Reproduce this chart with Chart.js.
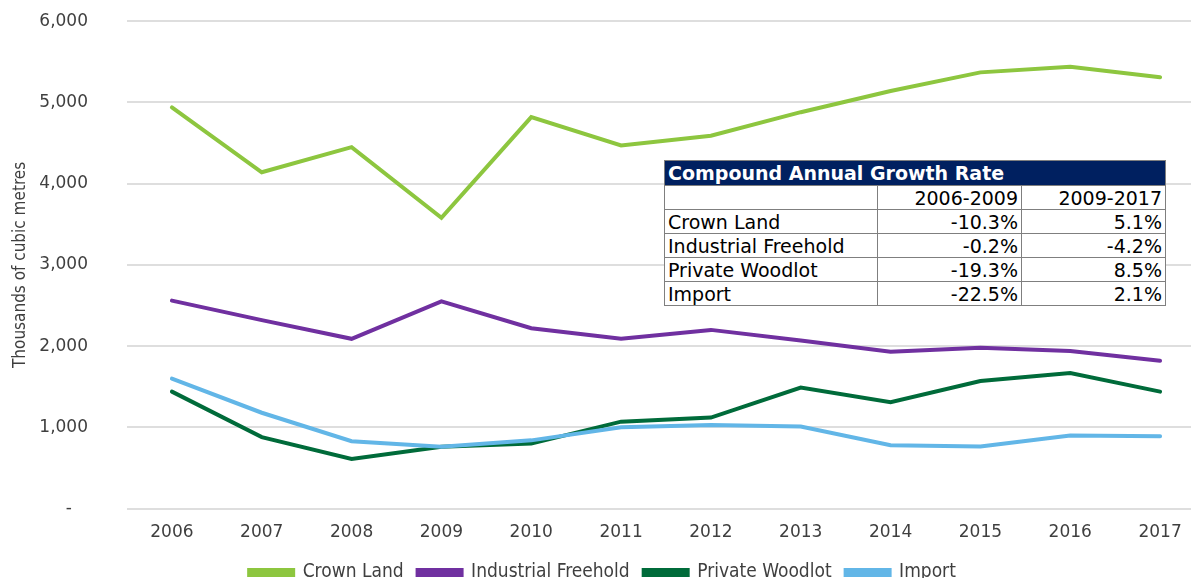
<!DOCTYPE html>
<html>
<head>
<meta charset="utf-8">
<script src="https://cdn.jsdelivr.net/npm/chart.js@4/dist/chart.umd.min.js"></script>
<style>
    html, body { margin: 0; padding: 0; background: #fff; }
    body { width: 1191px; height: 578px; overflow: hidden; position: relative; }
    #wrap { position: absolute; left: 0; top: -28px; width: 1206px; height: 620px; }
    #cagr {
        position: absolute; left: 664px; top: 160px; width: 502px;
        border-collapse: collapse; font-family: "DejaVu Sans", Verdana, sans-serif;
        font-size: 19px; color: #000; background: #fff;
    }
    #cagr td { border: 1px solid #7f7f7f; height: 23px; padding: 0 3px; line-height: 22px; white-space: nowrap; }
    #cagr td.num { text-align: right; }
    #cagr th {
        background: #002060; color: #fff; font-weight: bold; text-align: left;
        padding: 0 3px; height: 24px; line-height: 24px; border: 1px solid #7f7f7f;
    }
</style>
</head>
<body>
<div id="wrap"><canvas id="harvestChart"></canvas></div>
<table id="cagr">
    <tr><th colspan="3">Compound Annual Growth Rate</th></tr>
    <tr><td style="width:206px"></td><td class="num">2006-2009</td><td class="num">2009-2017</td></tr>
    <tr><td>Crown Land</td><td class="num">-10.3%</td><td class="num">5.1%</td></tr>
    <tr><td>Industrial Freehold</td><td class="num">-0.2%</td><td class="num">-4.2%</td></tr>
    <tr><td>Private Woodlot</td><td class="num">-19.3%</td><td class="num">8.5%</td></tr>
    <tr><td>Import</td><td class="num">-22.5%</td><td class="num">2.1%</td></tr>
</table>
<script>
// Wood supply by source, thousands of cubic metres
const years = ['2006', '2007', '2008', '2009', '2010', '2011', '2012', '2013', '2014', '2015', '2016', '2017'];
const crownLand = [4940, 4140, 4450, 3580, 4820, 4470, 4590, 4880, 5140, 5370, 5440, 5310];
const industrialFreehold = [2560, 2320, 2090, 2550, 2220, 2090, 2200, 2070, 1930, 1980, 1940, 1820];
const privateWoodlot = [1440, 880, 610, 760, 800, 1070, 1120, 1490, 1310, 1570, 1670, 1440];
const importVolume = [1600, 1180, 830, 760, 840, 1000, 1030, 1010, 780, 765, 900, 890];

const colors = {
    crown: '#8dc63f',
    industrial: '#7030a0',
    woodlot: '#006b3a',
    import: '#62b6e7'
};

function lineSet(label, data, color, order) {
    return {
        label: label,
        data: data,
        borderColor: color,
        backgroundColor: color,
        borderWidth: 4,
        pointRadius: 0,
        pointHoverRadius: 0,
        tension: 0,
        borderCapStyle: 'round',
        order: order
    };
}

const tickFont = { family: '"DejaVu Sans", Verdana, sans-serif', size: 17 };
const narrowFont = '"DejaVu Sans Condensed", "Liberation Sans Narrow", "DejaVu Sans", sans-serif';

new Chart(document.getElementById('harvestChart'), {
    type: 'line',
    data: {
        labels: years,
        datasets: [
            lineSet('Crown Land', crownLand, colors.crown, 4),
            lineSet('Industrial Freehold', industrialFreehold, colors.industrial, 3),
            lineSet('Private Woodlot', privateWoodlot, colors.woodlot, 2),
            lineSet('Import', importVolume, colors.import, 1)
        ]
    },
    options: {
        responsive: true,
        maintainAspectRatio: false,
        animation: false,
        layout: { padding: { top: 0, right: 1, left: 0, bottom: 0 } },
        plugins: {
            legend: {
                position: 'bottom',
                labels: {
                    sort: (a, b) => a.datasetIndex - b.datasetIndex,
                    boxWidth: 44,
                    boxHeight: 5,
                    padding: 14,
                    color: '#3f3f3f',
                    font: { family: narrowFont, size: 19 }
                }
            },
            tooltip: { enabled: false }
        },
        scales: {
            x: {
                offset: true,
                grid: { display: false },
                border: { display: false },
                ticks: { color: '#3f3f3f', font: tickFont, padding: 6, maxRotation: 0 }
            },
            y: {
                min: 0,
                max: 6000,
                afterFit: (scale) => { scale.width = 127; },
                grid: { color: '#dedede', lineWidth: 2, drawTicks: false },
                border: { display: false },
                ticks: {
                    stepSize: 1000,
                    padding: 39,
                    color: '#3f3f3f',
                    font: tickFont,
                    callback: (value) => value === 0 ? '-   ' : value.toLocaleString('en-US')
                },
                title: {
                    display: true,
                    text: 'Thousands of cubic metres',
                    color: '#3f3f3f',
                    padding: { top: 10, bottom: 0 },
                    font: { family: narrowFont, size: 17 }
                }
            }
        }
    }
});
</script>
</body>
</html>
